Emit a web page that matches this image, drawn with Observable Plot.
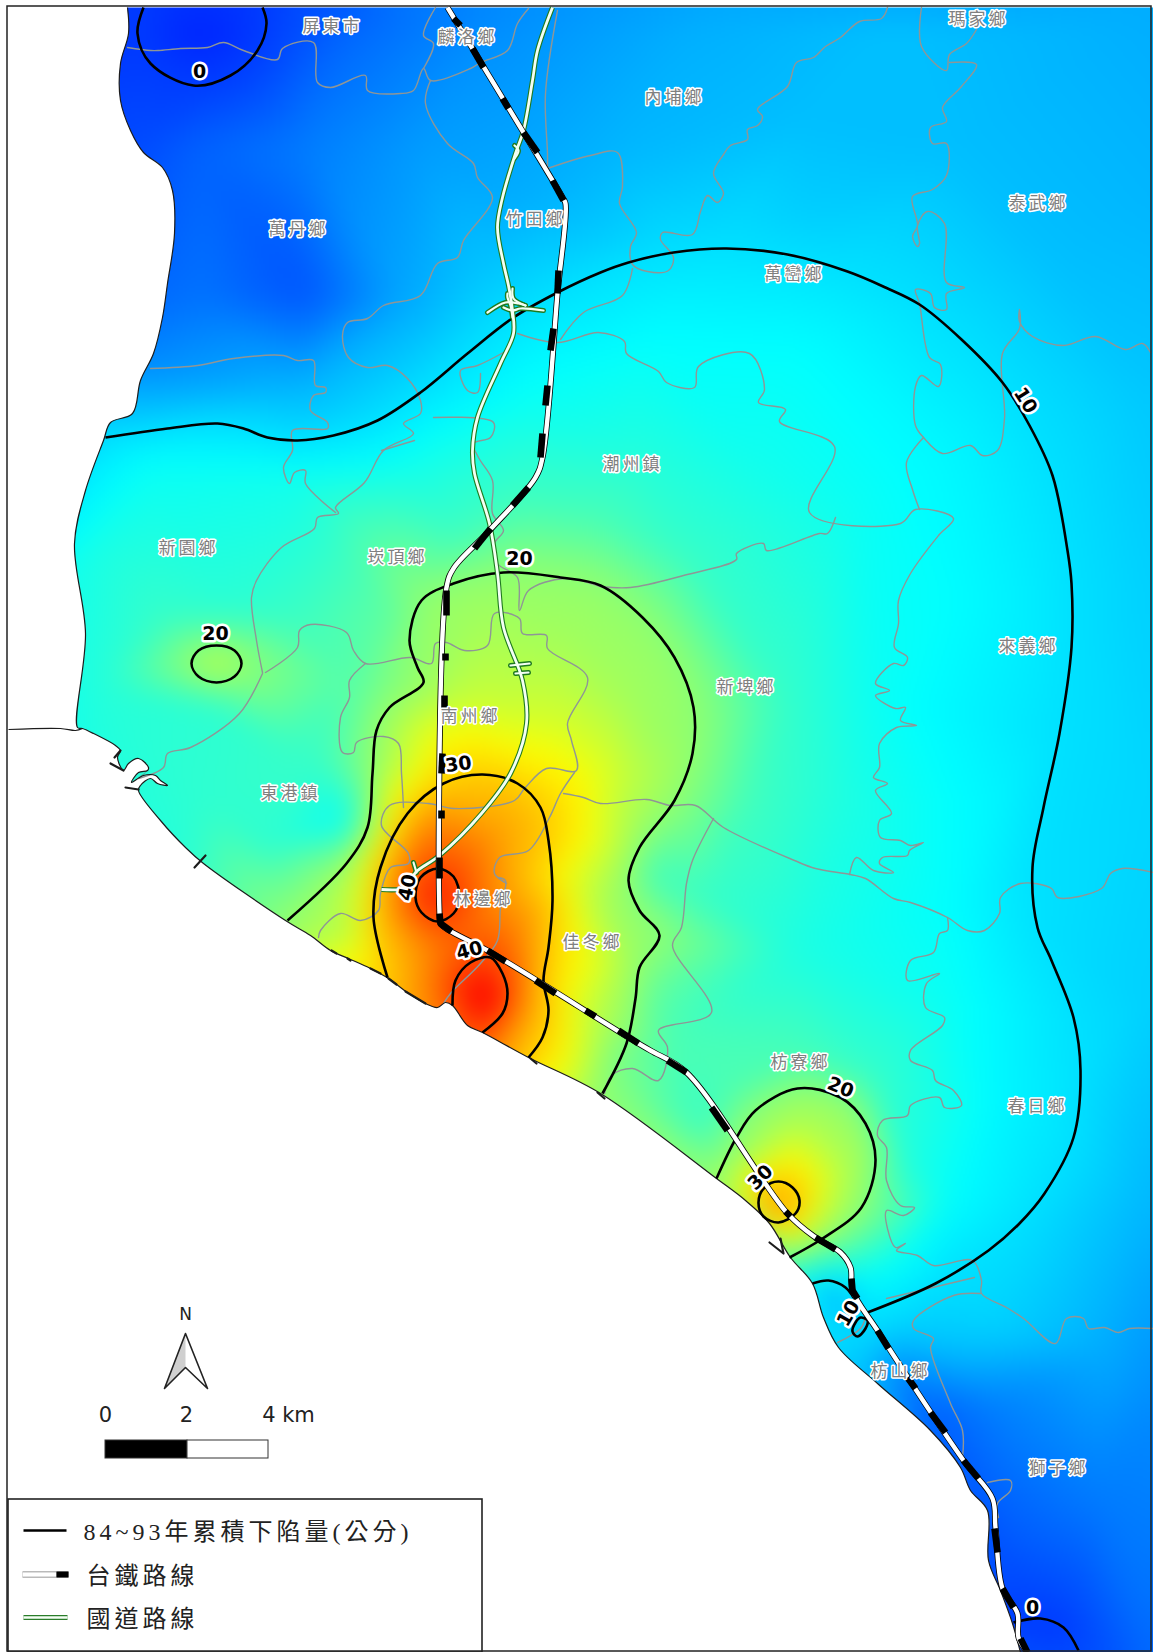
<!DOCTYPE html>
<html><head><meta charset="utf-8">
<style>
html,body{margin:0;padding:0;background:#fff}
svg{display:block}
.town text{letter-spacing:3px}
.legendtxt text{letter-spacing:4px}
</style>
<script src="https://cdn.jsdelivr.net/npm/d3@7"></script>
<script src="https://cdn.jsdelivr.net/npm/@observablehq/plot@0.6"></script>
</head><body>
<script>
const colorStops=[-2,0,5,10,12,26,45];
const colorRange=["#001eff","#003cff","#008cff","#00e1ff","#00ffff","#ffff00","#ff0000"];

const coastNorth=[[127,7],[128,33],[120,63],[120,100],[130,130],[143,152],[162,167],[172,190],[174,233],[167,283],[162,317],[153,353],[140,380],[132,413],[110,422],[103,440],[85,490],[74,543],[85,633],[77,727],[82,728],[93,733],[115,745],[120,750]];
const coastEstuary=[[120,750],[117,757],[123,770],[128,763],[138,758],[148,767],[147,770],[138,772],[131,782],[143,775],[155,775],[160,780],[167,785],[157,783],[150,778],[140,785],[138,790],[160,820]];
const coastSouth=[[160,820],[185,847],[203,863],[285,920],[310,935],[330,950],[348,958],[370,968],[388,978],[407,992],[425,1003],[437,1007],[445,1002],[452,1005],[467,1025],[482,1032],[528,1057],[600,1093],[716,1178],[745,1200],[769,1223],[790,1257],[812,1283],[823,1317],[838,1347],[877,1383],[930,1430],[960,1467],[970,1490],[987,1510],[988,1560],[1000,1590],[1012,1623],[1020,1652]];
const seaCorners=[[0,1652],[0,0],[127,0]];
const shoreWest=[[8,729],[60,728],[75,730],[82,728]];
const estuaryChannel=[[131,782],[147,770],[143,775]];
const shoreTicks=[[[120,750],[114,757]],[[110,763],[123,770]],[[125,787],[138,789]],[[194,867],[205,855]],[[769,1242],[783,1253],[780,1238]],[[331,950],[336,953]],[[347,958],[350,960]],[[370,968],[380,973]],[[388,978],[396,984]],[[405,991],[425,1003]],[[530,1058],[536,1063]],[[597,1092],[604,1098]]];

const contour10=[[105,437],[167,428],[217,423],[243,428],[267,437],[297,440],[333,435],[377,420],[420,392],[467,353],[513,317],[557,292],[600,272],[628,262],[673,252],[726,248],[787,254],[847,271],[885,287],[919,304],[961,339],[1002,382],[1029,425],[1052,475],[1067,550],[1071,583],[1071,647],[1059,733],[1043,807],[1032,867],[1037,927],[1051,960],[1073,1017],[1080,1070],[1073,1137],[1044,1193],[1018,1224],[988,1250],[935,1283],[867,1312]];
const contour10b=[[812,1283],[828,1280],[845,1287],[853,1297]];
const contour10c=[[860,1317],[867,1320],[865,1328],[857,1336],[852,1331],[855,1322]];
const contour20=[[287,920],[346,863],[367,827],[372,773],[376,730],[389,707],[423,682],[417,667],[409,640],[421,600],[453,583],[503,572],[560,577],[600,585],[642,617],[674,657],[693,707],[692,753],[674,800],[639,847],[628,880],[639,910],[659,935],[639,967],[635,998],[626,1043],[602,1093]];
const contour20e=[[716,1178],[736,1137],[755,1110],[797,1088],[840,1097],[865,1123],[875,1160],[861,1207],[822,1238],[789,1257]];
const contour20w=[[216,645],[234,650],[241,663],[234,676],[216,682],[198,676],[191,663],[198,650]];
const contour30=[[387,977],[373,917],[380,867],[407,813],[443,783],[482,774],[517,783],[540,807],[548,840],[552,900],[548,947],[543,980],[548,1010],[542,1037],[528,1057]];
const contour30e=[[778,1181],[792,1187],[799,1200],[795,1213],[778,1222],[763,1216],[758,1202],[764,1187]];
const contour40a=[[437,868],[453,876],[459,897],[453,913],[437,921],[421,912],[415,897],[420,877]];
const contour40b=[[452,1005],[455,980],[470,962],[490,957],[502,973],[507,993],[502,1013],[482,1032]];
const contour0a=[[143,7],[137,33],[150,63],[193,85],[230,75],[257,50],[266,23],[262,7]];
const contour0b=[[1013,1622],[1040,1618],[1063,1627],[1078,1650]];

const surfaceSamples=[
[50,0,-1],[200,20,-2],[350,20,2.5],[500,10,5],[700,10,7],[900,10,8],[1153,10,7],[8,300,1],[8,600,12],[1153,200,7.5],[1153,400,8.5],[1153,600,9],[1153,800,9.3],[1153,1000,9],[1153,1200,7.5],[1153,1400,5],[1153,1652,3],[8,1652,10],
[140,150,1],[200,150,2.5],[300,150,4],[420,150,6],[520,200,7],[620,150,7.5],[800,120,8],[950,150,8],[1050,250,8],[200,300,3.5],[305,295,1.5],[400,300,6.5],[480,280,8.5],[180,380,6],[300,390,7.5],[600,230,8.5],[800,220,9],
[150,470,12.5],[300,480,13],[400,470,13],[520,400,12.5],[650,340,12],[800,350,12],[950,450,11.5],[1020,600,11],[640,460,14],[760,470,13],[860,500,12.5],[950,600,12],[880,700,12.5],[1000,800,11.3],[950,900,12],[850,800,13.5],[750,800,15.5],[700,900,15],[800,950,13.5],[950,1000,12.5],[1000,1100,11.5],[950,1200,12],[900,1250,12.8],
[100,550,13.5],[100,680,14],[160,620,15],[216,663,23],[228,613,14.5],[220,705,14.5],[300,630,15.5],[300,750,15],[200,800,14.5],[260,850,14.5],[346,823,12],[320,760,15],[400,620,17.5],[350,680,16.5],[450,540,15.5],[520,500,15.5],[600,520,16],[690,560,15],[780,700,15],
[480,620,21],[560,640,21],[620,690,21],[470,700,23],[560,730,24],[640,780,22],[600,770,24.5],[440,740,26],[520,750,26],[360,900,24],[340,930,20],[565,880,25],[600,900,21],[585,1010,23],[620,1050,18],[600,1090,19],[650,1000,17],[653,875,15],[670,1040,16],[700,1130,15],[750,1225,20],
[430,820,35],[500,830,33],[520,880,31],[400,930,33],[400,970,31],[500,940,38],[470,930,37],[440,950,36],[525,1000,34],[510,1040,32],[460,1015,38],
[437,895,44],[485,1000,50],[445,905,43],
[778,1202,36],[790,1160,27],[840,1170,22],[800,1120,21.5],[750,1150,20.5],[815,1225,23],[900,1160,14],[870,1080,15],[800,1060,16],[730,1090,16],[790,1280,13],[870,1270,12.5],
[830,1305,5.5],[858,1327,11.5],[860,1350,9],[890,1380,4],[920,1410,2],[1000,1400,4.5],[1100,1350,7],[1100,1500,4],[1000,1550,1.5],[1050,1630,-1],[950,1350,8],[1000,1330,9],[900,1320,9.5]
];

const townBorders=[
[[127,47],[150,50],[158,50],[180,48],[207,47],[223,42],[243,50],[277,59],[282,48],[313,42],[317,82],[330,87],[365,75],[367,90],[400,93],[413,90],[423,68],[430,80],[470,68],[480,62],[507,50],[517,23],[528,8]],
[[435,7],[423,35],[433,43],[423,68]],
[[430,80],[425,103],[447,143],[473,163],[477,177],[492,197],[463,240],[457,257],[437,263],[420,295],[383,305],[367,318],[347,322],[342,335],[348,357],[367,367],[387,365],[407,378],[420,400],[420,413],[403,423],[413,433],[383,450],[364,482],[335,507],[338,513],[317,517],[314,528],[281,547],[256,580],[251,597],[256,640],[262,672]],
[[150,368],[197,365],[233,358],[283,355],[297,360],[313,360],[315,385],[325,387],[325,392],[313,395],[310,410],[327,422],[327,428],[292,430],[292,450],[283,467],[289,483],[294,472],[305,470],[305,483],[335,512]],
[[381,450],[414,440]],
[[262,673],[239,713],[190,747],[167,753],[163,767],[138,778]],
[[265,672],[297,647],[299,630],[310,624],[346,632],[353,650],[365,663],[410,657],[431,663],[435,643],[446,642],[464,650],[487,645],[494,613],[519,618],[522,633],[546,635],[547,648],[587,677],[567,723],[571,740],[576,770],[546,768],[524,788],[514,800],[453,808],[428,803],[389,805],[381,825],[408,853],[408,863],[390,867],[380,893],[378,910],[360,920],[340,913],[320,930],[318,937]],
[[365,663],[349,680],[349,697],[340,717],[342,752],[353,752],[356,742],[383,736],[398,743],[401,773],[403,807]],
[[574,772],[560,793],[549,817],[528,850],[499,857],[494,873],[506,883],[497,877],[505,880],[500,907],[497,940],[480,963],[450,993],[443,1003]],
[[563,793],[583,797],[600,803],[646,799],[670,805],[695,805],[723,827],[794,860],[815,868],[850,874],[865,878],[893,898],[910,902],[947,917],[967,930],[984,930],[999,913],[1000,897],[1020,883],[1051,888],[1057,897],[1101,888],[1110,873],[1122,868],[1153,872]],
[[713,818],[692,860],[686,883],[681,927],[672,945],[711,1012],[658,1030],[667,1047],[658,1080],[632,1068],[611,1075],[604,1093]],
[[947,917],[947,930],[939,933],[933,952],[910,960],[907,980],[939,973],[926,983],[925,1007],[944,1017],[942,1025],[910,1050],[910,1060],[932,1070],[935,1080],[953,1090],[961,1105],[944,1107],[939,1097],[910,1105],[907,1115],[882,1120],[877,1135],[886,1147],[886,1180],[900,1205],[914,1207],[903,1215],[886,1210],[895,1247],[905,1243],[896,1250],[917,1255],[933,1265],[972,1260],[981,1280],[981,1293],[1006,1307],[1023,1318],[1055,1343],[1066,1318],[1083,1318],[1088,1328],[1104,1327],[1118,1332],[1129,1328],[1153,1328]],
[[980,1293],[953,1295],[913,1320],[913,1328],[933,1338],[930,1347],[950,1403],[962,1430],[962,1457]],
[[974,1277],[886,1298]],
[[987,1482],[1010,1480],[1010,1490],[997,1503],[998,1517]],
[[837,1342],[860,1328],[865,1317]],
[[887,7],[881,18],[859,21],[840,37],[825,46],[813,57],[796,62],[787,86],[757,109],[762,116],[757,125],[747,129],[747,139],[730,145],[723,154],[713,173],[723,193],[717,202],[707,195],[700,211],[692,234],[662,232],[660,239],[673,257],[668,270],[647,271],[632,264],[630,246],[636,232],[619,203],[622,186],[617,152],[590,155],[547,168]],
[[632,268],[622,295],[583,312],[560,339]],
[[517,333],[557,342],[598,332],[624,341],[626,353],[658,371],[666,382],[694,387],[698,366],[749,353],[764,389],[758,402],[785,409],[779,421],[834,446],[809,512],[900,523],[915,509],[953,518],[938,535],[910,573],[898,600],[898,623],[894,647],[907,657],[903,665],[893,663],[875,683],[889,690],[875,695],[895,708],[905,707],[900,720],[916,725],[896,727],[879,743],[879,767],[873,777],[887,783],[875,790],[891,813],[879,820],[880,837],[900,840],[910,845],[923,842],[909,850],[907,855],[882,857],[879,863],[893,872],[873,870],[856,857],[849,874]],
[[921,7],[921,46],[946,70],[949,54],[966,43],[976,29]],
[[949,62],[976,64],[961,86],[942,107],[946,121],[930,127],[932,143],[946,143],[946,175],[932,189],[912,196],[917,225],[912,236],[917,246],[919,243],[917,225],[927,211],[944,223],[946,282],[964,287],[946,293],[946,309],[934,307],[930,293],[915,289],[919,303],[929,357],[940,364],[938,386],[921,375],[915,386],[915,425],[923,437],[942,453],[970,445],[982,455],[997,450],[1004,418],[1002,353],[1019,328],[1019,309],[1019,321],[1032,336],[1063,345],[1095,336],[1125,349],[1142,343],[1150,352]],
[[923,437],[906,462],[912,489],[919,509]],
[[600,586],[630,587],[683,575],[736,559],[736,553],[763,543],[766,550],[819,533],[827,533],[835,517]],
[[557,10],[545,93],[547,153],[547,168]],
[[503,352],[477,365],[460,370],[467,390],[477,392],[480,373]],
[[433,417],[493,422],[490,437],[473,443],[478,457],[492,480],[492,513],[503,530],[494,543],[497,563],[517,577],[519,610],[528,590],[564,578],[600,586]]
];

const railway=[[447,7],[523,132],[562,197],[565,203],[557,293],[542,457],[535,477],[489,530],[453,568],[446,587],[439,913],[440,923],[449,930],[487,950],[628,1037],[650,1050],[686,1072],[787,1213],[815,1237],[840,1252],[850,1267],[852,1290],[877,1330],[963,1460],[992,1498],[995,1527],[1002,1588],[1017,1613],[1018,1637],[1027,1652]];
const railBlack=[[[453,18],[460,25]],[[472,48],[483,67]],[[502,98],[508,108]],[[523,132],[537,152]],[[552,180],[563,200]],[[558,270],[557,293]],[[553,328],[550,350]],[[547,385],[545,405]],[[542,433],[540,457]],[[528,487],[512,505]],[[490,528],[474,548]],[[446,590],[446,615]],[[445,653],[445,660]],[[444,695],[444,713]],[[442,753],[441,773]],[[441,810],[441,818]],[[439,857],[439,878]],[[439,913],[440,923],[451,931]],[[487,950],[505,961]],[[535,980],[555,993]],[[585,1010],[595,1016]],[[618,1030],[638,1043]],[[667,1060],[686,1072]],[[711,1107],[727,1130]],[[785,1211],[790,1216]],[[815,1237],[835,1249]],[[851,1278],[852,1290],[857,1298]],[[877,1330],[888,1348]],[[907,1377],[915,1388]],[[930,1412],[945,1432]],[[963,1460],[978,1478]],[[994,1528],[997,1552]],[[1002,1588],[1013,1607]],[[1020,1638],[1027,1652]]];
const highway=[[552,7],[537,50],[532,80],[523,130],[515,153],[502,197],[497,227],[503,263],[508,285],[512,310],[513,333],[500,363],[477,417],[472,450],[474,473],[489,523],[497,573],[503,627],[522,680],[526,723],[510,773],[481,813],[439,855],[415,872],[406,887],[381,889]];
const highwayRamps=[[[487,312],[505,302],[518,303],[525,305]],[[543,310],[520,308],[512,310],[503,307]],[[512,288],[513,298],[525,305]],[[507,293],[507,297],[510,305],[512,317]],[[514,145],[518,150],[514,158]],[[510,665],[529,663]],[[515,673],[528,672]],[[413,862],[416,872]]];

const townNames=["屏東市","麟洛鄉","內埔鄉","瑪家鄉","竹田鄉","萬丹鄉","泰武鄉","萬巒鄉","潮州鎮","新園鄉","崁頂鄉","來義鄉","新埤鄉","南州鄉","東港鎮","林邊鄉","佳冬鄉","枋寮鄉","春日鄉","枋山鄉","獅子鄉"];
const townX=[332,467,674,978,535,298,1038,794,632,188,397,1028,746,470,290,483,592,800,1037,900,1058];
const townY=[26,37,97,19,219,229,203,274,464,548,557,646,687,716,793,899,942,1062,1106,1371,1468];

const levelText=["0","0","10","10","20","20","20","30","30","40","40"];
const levelX=[199,1032,1025,848,519,215,840,458,760,407,469];
const levelY=[71,1607,400,1313,558,633,1087,764,1177,887,950];
const levelAngle=[0,0,58,-60,0,0,22,-8,-45,-78,-15];

const northArrow=[[185,1333],[207,1388],[185,1367],[164,1388]];
const northShade=[[185,1333],[185,1367],[164,1388]];
const scaleSegments=[[105,187,"black"],[187,268,"white"]];
const scaleText=[["0",105],["2",186],["4 km",288]];
const legendBox=[[8,482,1499,1652]];
const legendLabels=[["84~93年累積下陷量(公分)",83,1532],["台鐵路線",86,1576],["國道路線",86,1619]];
const legendRail=[[22,1574],[56,1574]];
const legendRailEnd=[[56,1574],[68,1574]];
const legendRoad=[[23,1617],[67,1617]];
const legendContour=[[23,1530],[66,1530]];

const L=(pts,o)=>Plot.line(pts,{x:d=>d[0],y:d=>d[1],strokeLinecap:"butt",...o});
const LS=(arrs,o)=>Plot.line(arrs.flatMap((a,i)=>a.map(p=>[p[0],p[1],i])),{x:d=>d[0],y:d=>d[1],z:d=>d[2],...o});
const contourStyle={stroke:"#000",strokeWidth:2.6,curve:"catmull-rom"};
const closedStyle={...contourStyle,curve:"catmull-rom-closed"};
const serif='"Liberation Serif","Noto Sans CJK TC",serif';
const coastline=[...coastNorth,...coastEstuary.slice(1),...coastSouth.slice(1)];
const green="#1f7a1f", pale="#f4fff4";

const chart=Plot.plot({
  width:1153,height:1652,margin:0,
  style:{background:"#fff"},
  x:{domain:[0,1153],range:[0,1153],axis:null},
  y:{domain:[0,1652],range:[0,1652],axis:null},
  color:{type:"linear",domain:colorStops,range:colorRange,clamp:true},
  marks:[
    Plot.raster(surfaceSamples.concat(
      [[contour10,10],[contour10b,10],[contour10c,10],[contour20,20],[contour20e,20],[contour20w,20],[contour30,30],[contour30e,30],[contour40a,40],[contour40b,40],[contour0a,0],[contour0b,0]]
        .flatMap(([c,v])=>c.map(p=>[p[0],p[1],v]))
    ),{x:d=>d[0],y:d=>d[1],fill:d=>d[2],interpolate:"barycentric",x1:8,y1:7,x2:1153,y2:1652,pixelSize:2,blur:7}),
    L(seaCorners.concat(coastline),{fill:"white",stroke:"none",curve:"catmull-rom"}),
    L(estuaryChannel,{fill:"#4fb8a0",stroke:"none"}),
    LS(townBorders,{stroke:"#8f9696",strokeWidth:1.4,strokeLinejoin:"round",curve:"catmull-rom"}),
    L(coastline,{stroke:"#1c1c1c",strokeWidth:1.2,curve:"catmull-rom"}),
    L(shoreWest,{stroke:"#1c1c1c",strokeWidth:1.2,curve:"catmull-rom"}),
    LS(shoreTicks,{stroke:"#1c1c1c",strokeWidth:2.2}),
    L(contour10,contourStyle),L(contour10b,contourStyle),L(contour20,contourStyle),L(contour20e,contourStyle),
    L(contour30,contourStyle),L(contour40b,contourStyle),L(contour0a,contourStyle),L(contour0b,contourStyle),
    L(contour10c,closedStyle),L(contour20w,closedStyle),L(contour30e,closedStyle),L(contour40a,closedStyle),
    L(highway,{stroke:green,strokeWidth:5,curve:"catmull-rom"}),
    LS(highwayRamps,{stroke:green,strokeWidth:5,curve:"catmull-rom"}),
    L(highway,{stroke:pale,strokeWidth:2.8,curve:"catmull-rom"}),
    LS(highwayRamps,{stroke:pale,strokeWidth:2.2,curve:"catmull-rom"}),
    L(railway,{stroke:"#000",strokeWidth:6,curve:"catmull-rom"}),
    L(railway,{stroke:"#fff",strokeWidth:4.4,curve:"catmull-rom"}),
    LS(railBlack,{stroke:"#000",strokeWidth:6.6,strokeLinecap:"butt"}),
    Plot.text(townNames,{x:(d,i)=>townX[i],y:(d,i)=>townY[i],text:d=>d,fontFamily:serif,fontSize:17,fill:"#808080",stroke:"white",strokeWidth:3,className:"town"}),
    Plot.text(levelText,{x:(d,i)=>levelX[i],y:(d,i)=>levelY[i],text:d=>d,rotate:(d,i)=>levelAngle[i],fontFamily:"DejaVu Sans",fontWeight:700,fontSize:19,fill:"black",stroke:"white",strokeWidth:5}),
    L(northShade,{fill:"#cfcfcf",stroke:"none"}),
    L(northArrow,{stroke:"#222",strokeWidth:1.6,curve:"linear-closed"}),
    Plot.text(["N"],{x:[185],y:[1314],text:d=>d,fontFamily:"DejaVu Sans",fontSize:17,fill:"#222"}),
    Plot.rect(scaleSegments,{x1:d=>d[0],x2:d=>d[1],y1:()=>1440,y2:()=>1458,fill:d=>d[2],stroke:"#333",strokeWidth:1}),
    Plot.text(scaleText,{x:d=>d[1],y:()=>1415,text:d=>d[0],fontFamily:"DejaVu Sans",fontSize:21,fill:"#222"}),
    Plot.rect(legendBox,{x1:d=>d[0],x2:d=>d[1],y1:d=>d[2],y2:d=>d[3],fill:"white",stroke:"#222",strokeWidth:1.6}),
    L(legendContour,{stroke:"#000",strokeWidth:2.6}),
    L(legendRail.concat(legendRailEnd),{stroke:"#777",strokeWidth:6}),
    L(legendRail,{stroke:"#fff",strokeWidth:4.4}),
    L(legendRailEnd,{stroke:"#000",strokeWidth:6}),
    L(legendRoad,{stroke:"#2a7d2a",strokeWidth:5}),
    L(legendRoad,{stroke:pale,strokeWidth:2.4}),
    Plot.text(legendLabels,{x:d=>d[1],y:d=>d[2],text:d=>d[0],textAnchor:"start",fontFamily:serif,fontSize:24,fill:"#222",className:"legendtxt"}),
    Plot.rect([[7,1151,6,1651]],{x1:d=>d[0],x2:d=>d[1],y1:d=>d[2],y2:d=>d[3],fill:"none",stroke:"#222",strokeWidth:1.5})
  ]
});
document.body.appendChild(chart);
</script>
</body></html>
